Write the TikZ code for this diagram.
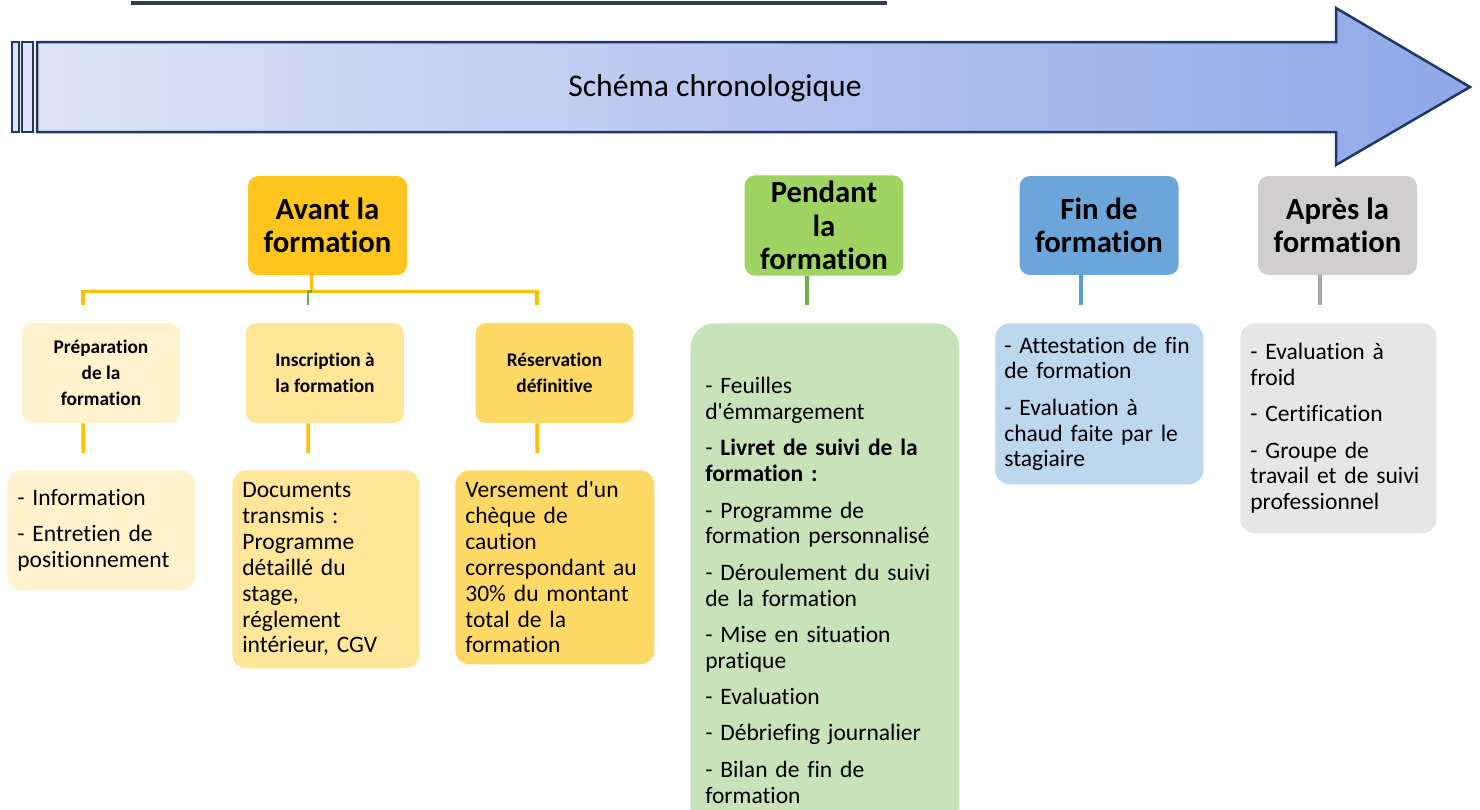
\documentclass[tikz,border=0pt]{standalone}
\usepackage{fontspec}
\defaultfontfeatures[\rmfamily]{}
\setmainfont{Carlito}[Ligatures=CommonOff]

\definecolor{edgecol}{RGB}{31,56,100}
\definecolor{shadeleft}{RGB}{222,227,246}
\definecolor{shaderight}{RGB}{143,168,232}
\definecolor{barcol}{RGB}{50,62,80}
\definecolor{avantcol}{RGB}{255,197,31}
\definecolor{prepcol}{RGB}{255,242,204}
\definecolor{insccol}{RGB}{255,230,153}
\definecolor{rescol}{RGB}{255,217,102}
\definecolor{goldcol}{RGB}{255,192,0}
\definecolor{pendantcol}{RGB}{160,212,98}
\definecolor{greencol}{RGB}{112,173,71}
\definecolor{suivicol}{RGB}{200,226,185}
\definecolor{fincol}{RGB}{108,165,218}
\definecolor{bluecol}{RGB}{91,155,213}
\definecolor{attestcol}{RGB}{189,215,238}
\definecolor{aprescol}{RGB}{208,206,206}
\definecolor{greycol}{RGB}{165,165,165}
\definecolor{froidcol}{RGB}{231,230,230}

\tikzset{
  phase/.style={rounded corners=6pt, align=center, minimum width=3.18cm, minimum height=1.98cm,
    font=\bfseries\fontsize{17.5}{19}\selectfont},
  stage/.style={rounded corners=6pt, align=center, minimum width=3.16cm, minimum height=2cm,
    font=\bfseries\fontsize{11}{14.7}\selectfont},
  detail/.style={rounded corners=8pt, anchor=north west, align=left, inner xsep=0.2cm, inner ysep=0pt,
    font=\fontsize{13.4}{14.7}\selectfont},
  link/.style={line width=0.07cm},
}

\begin{document}
\begin{tikzpicture}[x=0.02cm,y=-0.02cm]
\useasboundingbox (0,0) rectangle (1480,809);
\clip (0,0) rectangle (1480,809);

% timeline arrow
\draw[barcol, line width=0.08cm] (131,3) -- (887,3);
\draw[edgecol, line width=0.05cm, fill=shadeleft] (12,42) rectangle (19,132);
\draw[edgecol, line width=0.05cm, fill=shadeleft] (22,42) rectangle (33,132);
\draw[edgecol, line width=0.05cm, left color=shadeleft, right color=shaderight]
  (37,42) -- (1336,42) -- (1336,8) -- (1470,87) -- (1336,165) -- (1336,132) -- (37,132) -- cycle;
\node[font=\fontsize{18}{22}\selectfont] (title) at (715,88) {Schéma chronologique};

% phases
\node[phase, fill=avantcol] (avant) at (327.5,225.5) {Avant la\\formation};
\node[phase, fill=pendantcol] (pendant) at (824,225.5) {Pendant\\la\\formation};
\node[phase, fill=fincol] (fin) at (1099,225.5) {Fin de\\formation};
\node[phase, fill=aprescol] (apres) at (1337.5,225.5) {Après la\\formation};

% steps before
\node[stage, fill=prepcol] (prep) at (101,373) {Préparation\\de la\\formation};
\node[stage, fill=insccol] (insc) at (325,373) {Inscription à\\la formation};
\node[stage, fill=rescol] (res) at (554.5,373) {Réservation\\définitive};

% details
\node[detail, fill=prepcol, text width=3.36cm, minimum height=2.4cm] (info) at (7,470)
  {- Information\\[6pt]- Entretien de\\positionnement};
\node[detail, fill=insccol, text width=3.34cm, minimum height=3.96cm] (docs) at (232,470)
  {Documents\\transmis :\\Programme\\détaillé du\\stage,\\réglement\\intérieur, CGV};
\node[detail, fill=rescol, text width=3.58cm, minimum height=3.88cm] (cheque) at (455,470)
  {Versement d'un\\chèque de\\caution\\correspondant au\\30\% du montant\\total de la\\formation};
\node[detail, fill=suivicol, rounded corners=14pt, inner xsep=0.3cm, text width=4.78cm, minimum height=10.68cm] (suivi) at (690,323)
  {- Feuilles\\d'émmargement\\[6pt]- \textbf{Livret de suivi de la}\\\textbf{formation :}\\[6pt]- Programme de\\formation personnalisé\\[6pt]- Déroulement du suivi\\de la formation\\[6pt]- Mise en situation\\pratique\\[6pt]- Evaluation\\[6pt]- Débriefing journalier\\[6pt]- Bilan de fin de\\formation};
\node[detail, fill=attestcol, inner xsep=0.18cm, text width=3.8cm, minimum height=3.22cm] (attest) at (995,323)
  {- Attestation de fin\\de formation\\[6pt]- Evaluation à\\chaud faite par le\\stagiaire};
\node[detail, fill=froidcol, text width=3.52cm, minimum height=4.2cm] (froid) at (1240,323)
  {- Evaluation à\\froid\\[6pt]- Certification\\[6pt]- Groupe de\\travail et de suivi\\professionnel};

% connectors
\coordinate (avantout) at ([xshift=-0.32cm]avant.south);
\draw[link, goldcol] (avantout) -- ++(0,16) coordinate (fork);
\draw[link, goldcol, shorten >=0.36cm] (fork) -| ([xshift=-0.36cm]prep.north);
\draw[link, goldcol, shorten >=0.36cm] (fork) -| ([xshift=-0.35cm]res.north);
\draw[link, greencol, line width=0.05cm, shorten >=0.36cm] (fork) -| ([xshift=-0.34cm]insc.north);

\draw[link, goldcol, shorten >=0.34cm] ([xshift=-0.36cm]prep.south) -- ([xshift=-0.36cm]info.north);
\draw[link, goldcol, shorten >=0.34cm] ([xshift=-0.34cm]insc.south) -- ([xshift=-0.35cm]docs.north);
\draw[link, goldcol, shorten >=0.34cm] ([xshift=-0.35cm]res.south) -- ([xshift=-0.35cm]cheque.north);

\coordinate (pendantout) at ([xshift=-0.34cm]pendant.south);
\coordinate (finout) at ([xshift=-0.36cm]fin.south);
\coordinate (apresout) at ([xshift=-0.35cm]apres.south);
\draw[link, greencol, shorten >=0.36cm] (pendantout) -- (pendantout |- suivi.north);
\draw[link, bluecol, shorten >=0.36cm] (finout) -- (finout |- attest.north);
\draw[link, greycol, shorten >=0.36cm] (apresout) -- (apresout |- froid.north);
\end{tikzpicture}
\end{document}
